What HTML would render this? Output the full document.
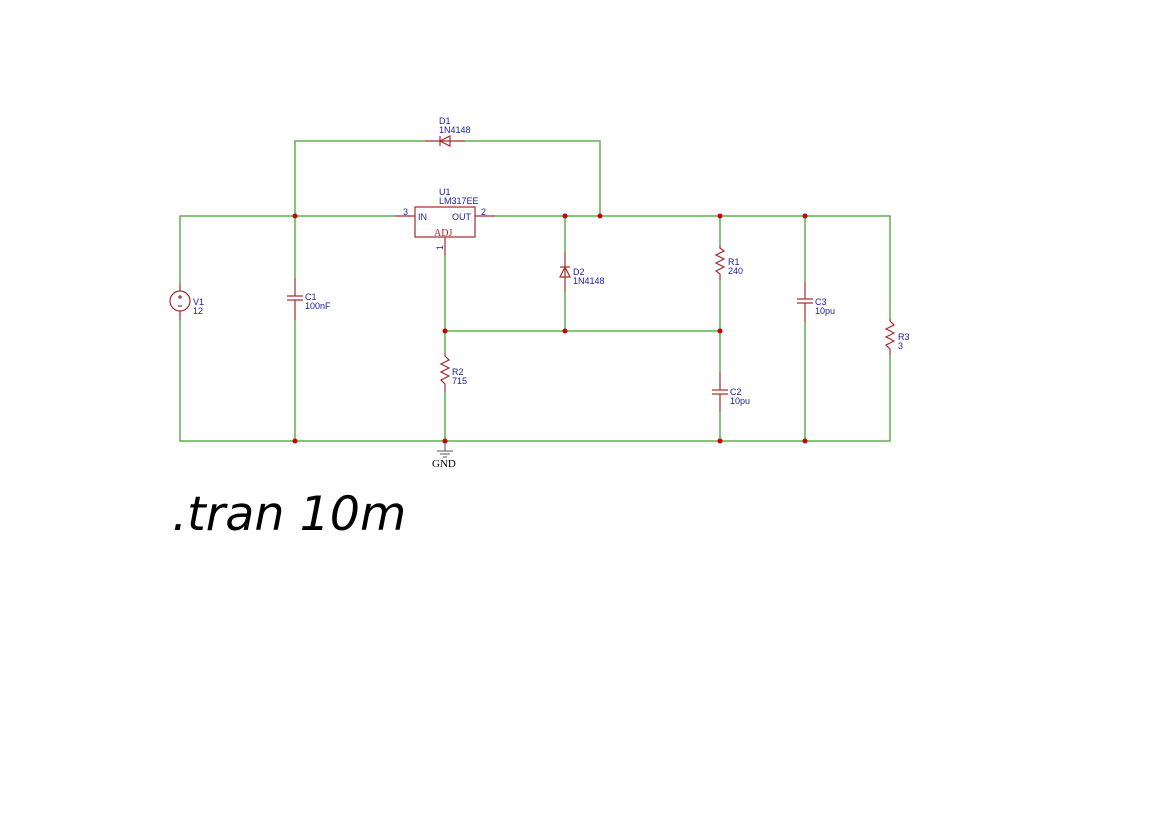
<!DOCTYPE html>
<html><head><meta charset="utf-8"><style>
html,body{margin:0;padding:0;background:#fff;width:1169px;height:827px;overflow:hidden}
svg{display:block}
.lb{font-family:"Liberation Sans",sans-serif;font-size:9px;fill:#1a1aa0}
</style></head><body>
<svg width="1169" height="827" viewBox="0 0 1169 827" xmlns="http://www.w3.org/2000/svg">
<g stroke="#5fb04f" stroke-width="1.5" fill="none">
<polyline points="180,283 180,216 395,216"/>
<polyline points="180,320 180,441 890,441 890,355"/>
<polyline points="890,318 890,216 495,216"/>
<polyline points="295,216 295,141 425,141"/>
<polyline points="465,141 600,141 600,216"/>
<line x1="295" y1="216" x2="295" y2="278"/><line x1="295" y1="320" x2="295" y2="441"/>
<line x1="445" y1="256" x2="445" y2="353"/><line x1="445" y1="392" x2="445" y2="441"/>
<line x1="445" y1="331" x2="720" y2="331"/>
<line x1="565" y1="216" x2="565" y2="252"/><line x1="565" y1="292" x2="565" y2="331"/>
<line x1="720" y1="216" x2="720" y2="245"/><line x1="720" y1="280" x2="720" y2="372"/><line x1="720" y1="412" x2="720" y2="441"/>
<line x1="805" y1="216" x2="805" y2="282"/><line x1="805" y1="322" x2="805" y2="441"/>
</g>
<g stroke="#a52a2a" stroke-width="1.2" fill="none">
<rect x="415" y="207" width="60" height="30"/>
<line x1="395" y1="216" x2="415" y2="216"/><line x1="475" y1="216" x2="495" y2="216"/>
<line x1="445" y1="237" x2="445" y2="256"/>
<line x1="425" y1="141" x2="465" y2="141"/>
<polygon points="440,141 450,136 450,146"/><line x1="440" y1="136" x2="440" y2="146"/>
<line x1="565" y1="252" x2="565" y2="292"/>
<polygon points="565,267 560,277 570,277"/><line x1="560" y1="267" x2="570" y2="267"/>
<circle cx="180" cy="301" r="10"/>
<line x1="180" y1="283" x2="180" y2="291"/><line x1="180" y1="311" x2="180" y2="320"/>
<line x1="180" y1="295" x2="180" y2="299"/><line x1="178" y1="297" x2="182" y2="297"/><line x1="178" y1="306" x2="182" y2="306"/>
<line x1="295" y1="278" x2="295" y2="296"/><line x1="295" y1="300" x2="295" y2="320"/>
<line x1="287" y1="296" x2="303" y2="296"/><line x1="287" y1="300" x2="303" y2="300"/>
<line x1="720" y1="372" x2="720" y2="390"/><line x1="720" y1="394" x2="720" y2="412"/>
<line x1="712" y1="390" x2="728" y2="390"/><line x1="712" y1="394" x2="728" y2="394"/>
<line x1="805" y1="282" x2="805" y2="299"/><line x1="805" y1="303" x2="805" y2="322"/>
<line x1="797" y1="299" x2="813" y2="299"/><line x1="797" y1="303" x2="813" y2="303"/>
<polyline points="720,245 720,248 724,251 716,255 724,259 716,263 724,267 716,271 720,274 720,280"/>
<polyline points="445,353 445,356 449,360 441,364 449,368 441,372 449,376 441,380 445,384 445,392"/>
<polyline points="890,318 890,321 894,325 886,329 894,333 886,337 894,341 886,345 890,349 890,355"/>
</g>
<g stroke="#555" stroke-width="1">
<line x1="445" y1="441" x2="445" y2="451"/>
<line x1="437" y1="451" x2="453" y2="451"/><line x1="440" y1="454" x2="450" y2="454"/><line x1="443" y1="457" x2="447" y2="457"/>
</g>
<g fill="#cc0000">
<circle cx="295" cy="216" r="2.5"/><circle cx="565" cy="216" r="2.5"/><circle cx="600" cy="216" r="2.5"/>
<circle cx="720" cy="216" r="2.5"/><circle cx="805" cy="216" r="2.5"/>
<circle cx="445" cy="331" r="2.5"/><circle cx="565" cy="331" r="2.5"/><circle cx="720" cy="331" r="2.5"/>
<circle cx="295" cy="441" r="2.5"/><circle cx="445" cy="441" r="2.5"/><circle cx="720" cy="441" r="2.5"/><circle cx="805" cy="441" r="2.5"/>
</g>
<g class="lb">
<text x="439" y="124">D1</text><text x="439" y="133">1N4148</text>
<text x="439" y="195">U1</text><text x="439" y="204">LM317EE</text>
<text x="418" y="220">IN</text><text x="452" y="220">OUT</text>
<text x="403" y="215">3</text><text x="481" y="215">2</text>
<text x="0" y="0" transform="translate(443,250) rotate(-90)">1</text>
<text x="193" y="305">V1</text><text x="193" y="314">12</text>
<text x="305" y="300">C1</text><text x="305" y="309">100nF</text>
<text x="573" y="275">D2</text><text x="573" y="284">1N4148</text>
<text x="728" y="265">R1</text><text x="728" y="274">240</text>
<text x="452" y="375">R2</text><text x="452" y="384">715</text>
<text x="730" y="395">C2</text><text x="730" y="404">10pu</text>
<text x="815" y="305">C3</text><text x="815" y="314">10pu</text>
<text x="898" y="340">R3</text><text x="898" y="349">3</text>
</g>
<text x="434" y="236" font-family="Liberation Serif,serif" font-size="10" fill="#a52a2a">ADJ</text>
<text x="432" y="467" font-family="Liberation Serif,serif" font-size="11" fill="#000">GND</text>
<text x="172" y="530" font-family="DejaVu Sans,sans-serif" font-style="oblique" font-size="47.5" fill="#000">.tran 10m</text>
</svg>
</body></html>
